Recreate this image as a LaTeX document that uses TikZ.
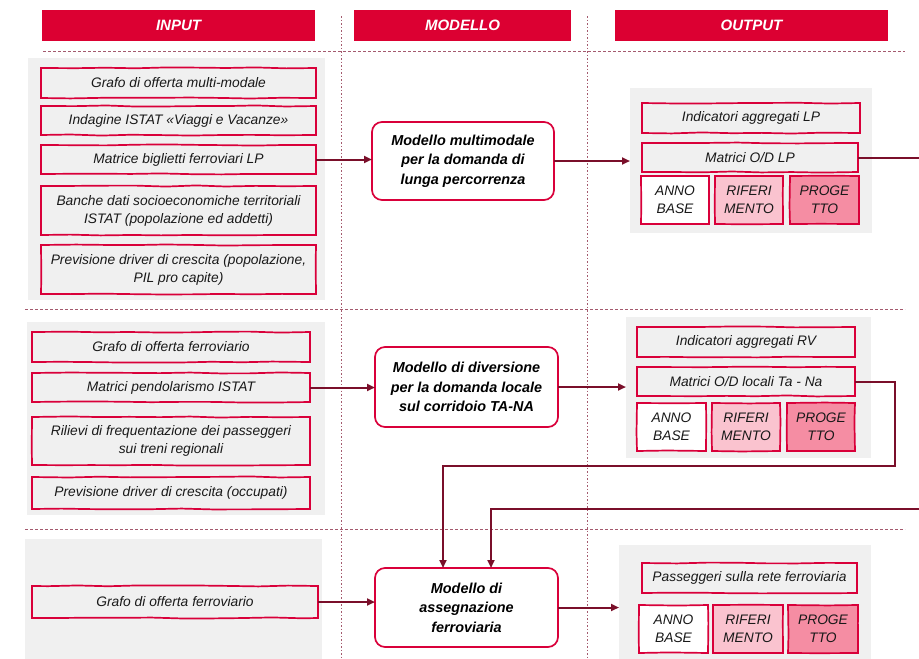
\documentclass[tikz,border=0pt]{standalone}
\usepackage{fontspec}
\setmainfont{Liberation Sans}
\usetikzlibrary{arrows.meta,decorations.pathmorphing}
\definecolor{hred}{HTML}{DC0032}
\definecolor{bred}{HTML}{D9003A}
\definecolor{conncol}{HTML}{7A0F2A}
\definecolor{dashcol}{HTML}{A45A6E}
\definecolor{panelgray}{HTML}{F0F0F0}
\definecolor{pinklight}{HTML}{FAC3CF}
\definecolor{pinkmid}{HTML}{F58DA3}
\newcommand{\boxat}[7]{%
  \pgfmathsetmacro{\bxw}{#5-#3}\pgfmathsetmacro{\bxh}{#6-#4}%
  \pgfmathsetmacro{\bxx}{(#3+#5)/2}\pgfmathsetmacro{\bxy}{(#4+#6)/2}%
  \node[#1, minimum width=\bxw pt, minimum height=\bxh pt] (#2) at (\bxx,\bxy) {#7};}
\tikzset{
  every node/.style={inner sep=0pt, outer sep=0pt},
  hdr/.style={fill=hred, text=white, font=\bfseries\itshape\fontsize{15}{17}\selectfont},
  panel/.style={fill=panelgray},
  sketch/.style={decorate, decoration={random steps, segment length=30pt, amplitude=0.6pt}},
  inbox/.style={draw=bred, line width=1.7pt, fill=panelgray, align=center, sketch,
    font=\itshape\fontsize{13.8}{18}\selectfont, text=black!90},
  yearbox/.style={inbox, fill=white},
  refbox/.style={inbox, fill=pinklight},
  progbox/.style={inbox, fill=pinkmid},
  model/.style={draw=bred, line width=1.7pt, fill=white, rounded corners=10pt, align=center,
    font=\bfseries\itshape\fontsize{14.4}{19.5}\selectfont},
  conn/.style={draw=conncol, line width=2pt, -{Triangle[length=8pt,width=7pt]}},
  hline/.style={draw=dashcol, line width=0.9pt, dash pattern=on 3pt off 2pt},
  vline/.style={draw=dashcol, line width=0.9pt, dash pattern=on 1.5pt off 2pt},
}
\begin{document}
\begin{tikzpicture}[x=1pt,y=-1pt]
\useasboundingbox (0,0) rectangle (919,659);
% guide lines
\draw[vline] (341,16) -- (341,659);
\draw[vline] (587,16) -- (587,659);
\draw[hline] (43,51) -- (905,51);
\draw[hline] (25,309) -- (905,309);
\draw[hline] (25,529) -- (905,529);
% headers
\boxat{hdr}{hin}{42}{10}{315}{41}{INPUT}
\boxat{hdr}{hmod}{354}{10}{571}{41}{MODELLO}
\boxat{hdr}{hout}{615}{10}{888}{41}{OUTPUT}
% panels
\boxat{panel}{ib1}{28}{58}{325}{300}{}
\boxat{panel}{ob1}{630}{88}{872}{233}{}
\boxat{panel}{ib2}{27}{322}{325}{515}{}
\boxat{panel}{ob2}{626}{317}{871}{458}{}
\boxat{panel}{ib3}{25}{539}{322}{659}{}
\boxat{panel}{ob3}{619}{545}{871}{659}{}
% section 1 inputs
\boxat{inbox}{i1a}{41}{68}{316}{98}{Grafo di offerta multi-modale}
\boxat{inbox}{i1b}{41}{106}{316}{135}{Indagine ISTAT «Viaggi e Vacanze»}
\boxat{inbox}{i1c}{41}{145}{316}{174}{Matrice biglietti ferroviari LP}
\boxat{inbox}{i1d}{41}{186}{316}{235}{Banche dati socioeconomiche territoriali\\ISTAT (popolazione ed addetti)}
\boxat{inbox}{i1e}{41}{245}{316}{294}{Previsione driver di crescita (popolazione,\\PIL pro capite)}
\boxat{model}{m1}{372}{122}{554}{200}{Modello multimodale\\per la domanda di\\lunga percorrenza}
\boxat{inbox}{o1a}{642}{103}{860}{133}{Indicatori aggregati LP}
\boxat{inbox}{o1b}{642}{143}{858}{172}{Matrici O/D LP}
\boxat{yearbox}{o1c}{641}{176}{709}{224}{ANNO\\BASE}
\boxat{refbox}{o1d}{715}{176}{783}{224}{RIFERI\\MENTO}
\boxat{progbox}{o1e}{790}{176}{859}{224}{PROGE\\TTO}
% section 2
\boxat{inbox}{i2a}{32}{332}{310}{362}{Grafo di offerta ferroviario}
\boxat{inbox}{i2b}{32}{373}{310}{402}{Matrici pendolarismo ISTAT}
\boxat{inbox}{i2c}{32}{417}{310}{465}{Rilievi di frequentazione dei passeggeri\\sui treni regionali}
\boxat{inbox}{i2d}{32}{477}{310}{509}{Previsione driver di crescita (occupati)}
\boxat{model}{m2}{375}{347}{558}{427}{Modello di diversione\\per la domanda locale\\sul corridoio TA-NA}
\boxat{inbox}{o2a}{637}{327}{855}{357}{Indicatori aggregati RV}
\boxat{inbox}{o2b}{637}{367}{855}{396}{Matrici O/D locali Ta - Na}
\boxat{yearbox}{o2c}{637}{403}{706}{451}{ANNO\\BASE}
\boxat{refbox}{o2d}{712}{403}{780}{451}{RIFERI\\MENTO}
\boxat{progbox}{o2e}{787}{403}{855}{451}{PROGE\\TTO}
% section 3
\boxat{inbox}{i3a}{32}{586}{318}{618}{Grafo di offerta ferroviario}
\boxat{model}{m3}{375}{568}{558}{647}{Modello di\\assegnazione\\ferroviaria}
\boxat{inbox}{o3a}{642}{563}{857}{593}{Passeggeri sulla rete ferroviaria}
\boxat{yearbox}{o3b}{639}{605}{708}{653}{ANNO\\BASE}
\boxat{refbox}{o3c}{713}{605}{783}{653}{RIFERI\\MENTO}
\boxat{progbox}{o3d}{788}{605}{858}{653}{PROGE\\TTO}
% connector helper coordinates
\coordinate (offR) at (960,509);
\coordinate (lpdown) at (491,509);
\coordinate (rvR) at (895,466);
\coordinate (rvdown) at (443,466);
% connectors
\draw[conn] (i1c.east) -- (i1c.east -| m1.west);
\draw[conn] (m1.east) -- (m1.east -| ob1.west);
\draw[conn] (i2b.east) -- (i2b.east -| m2.west);
\draw[conn] (m2.east) -- (m2.east -| ob2.west);
\draw[conn] (i3a.east) -- (i3a.east -| m3.west);
\draw[conn] (m3.east) -- (m3.east -| ob3.west);
\draw[conn] (o1b.east) -- (o1b.east -| offR) -- (offR) -- (lpdown) -- (lpdown |- m3.north);
\draw[conn] (o2b.east) -- (o2b.east -| rvR) -- (rvR) -- (rvdown) -- (rvdown |- m3.north);
\end{tikzpicture}
\end{document}
